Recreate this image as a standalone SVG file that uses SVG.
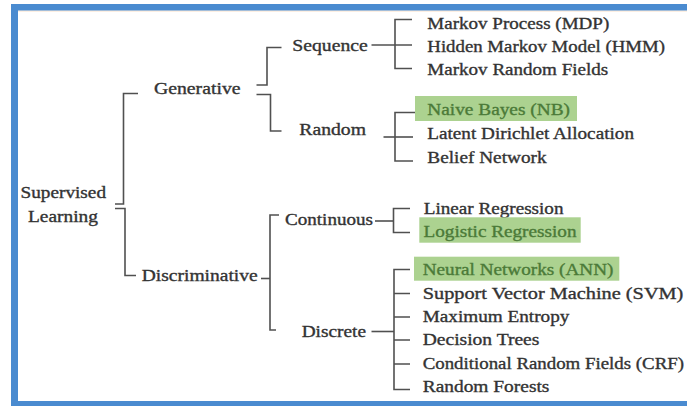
<svg xmlns="http://www.w3.org/2000/svg" width="687" height="406" viewBox="0 0 687 406">
  <style>
    text { font-family: 'Liberation Serif', 'DejaVu Serif', serif; font-size: 16.5px; fill: #333333; stroke: #333333; stroke-width: 0.35px; }
    text.hl { fill: #4b7a38; stroke: #4b7a38; }
    .link { fill: none; stroke: #505050; stroke-width: 1.6; }
    .hlbox { fill: #acd290; }
    .frame { fill: #4a8bd0; }
  </style>

  <!-- page and frame -->
  <rect x="0" y="0" width="687" height="406" fill="#ffffff"/>
  <rect x="18" y="10" width="669" height="2" fill="#fcefe3"/>
  <rect class="frame" x="11" y="4" width="676" height="6.5"/>
  <rect class="frame" x="11" y="4" width="7" height="402"/>
  <rect class="frame" x="11" y="401" width="676" height="5"/>

  <!-- connectors -->
  <g id="connectors">
    <path class="link" d="M115,204 H123.5 V93.5 H138"/>
    <path class="link" d="M115,208.5 H125 V275.5 H136"/>
    <path class="link" d="M256.5,85 H267 V47.5 H281.5"/>
    <path class="link" d="M256.5,94.5 H270.5 V131 H281.5"/>
    <path class="link" d="M371.5,45 H412"/>
    <path class="link" d="M412,19.5 H395 V68.5 H412"/>
    <path class="link" d="M383.5,137 H413"/>
    <path class="link" d="M415,112.5 H395 V161 H413"/>
    <path class="link" d="M261,278.5 H270"/>
    <path class="link" d="M279,215 H270 V330 H276"/>
    <path class="link" d="M375,221 H393.5"/>
    <path class="link" d="M410,208.5 H393.5 V232.5 H410"/>
    <path class="link" d="M371.5,331.5 H394"/>
    <path class="link" d="M410,269.5 H394 V389.5 H410"/>
    <path class="link" d="M394,293.5 H410 M394,317 H410 M394,340 H410 M394,364 H410"/>
  </g>

  <!-- root -->
  <g id="supervised-learning">
    <text x="20.5" y="198" textLength="85.5" lengthAdjust="spacingAndGlyphs">Supervised</text>
    <text x="28" y="221.5" textLength="70" lengthAdjust="spacingAndGlyphs">Learning</text>
  </g>

  <!-- generative branch -->
  <g id="generative"><text x="154" y="94" textLength="86.5" lengthAdjust="spacingAndGlyphs">Generative</text></g>
  <g id="sequence"><text x="292.3" y="51" textLength="75.4" lengthAdjust="spacingAndGlyphs">Sequence</text></g>
  <g id="random"><text x="299.3" y="134.5" textLength="66.7" lengthAdjust="spacingAndGlyphs">Random</text></g>

  <g id="markov-process"><text x="427.3" y="28.5" textLength="182" lengthAdjust="spacingAndGlyphs">Markov Process (MDP)</text></g>
  <g id="hmm"><text x="427.3" y="51.5" textLength="237.7" lengthAdjust="spacingAndGlyphs">Hidden Markov Model (HMM)</text></g>
  <g id="markov-random-fields"><text x="427.3" y="74.5" textLength="181" lengthAdjust="spacingAndGlyphs">Markov Random Fields</text></g>

  <g id="naive-bayes">
    <rect class="hlbox" x="415" y="96" width="162" height="25"/>
    <text class="hl" x="427.3" y="115" textLength="142.7" lengthAdjust="spacingAndGlyphs">Naive Bayes (NB)</text>
  </g>
  <g id="lda"><text x="427.3" y="139" textLength="206.7" lengthAdjust="spacingAndGlyphs">Latent Dirichlet Allocation</text></g>
  <g id="belief-network"><text x="427.3" y="163" textLength="119.3" lengthAdjust="spacingAndGlyphs">Belief Network</text></g>

  <!-- discriminative branch -->
  <g id="discriminative"><text x="141.7" y="280.5" textLength="116" lengthAdjust="spacingAndGlyphs">Discriminative</text></g>
  <g id="continuous"><text x="285" y="224.5" textLength="88" lengthAdjust="spacingAndGlyphs">Continuous</text></g>
  <g id="discrete"><text x="301.7" y="336.5" textLength="64.3" lengthAdjust="spacingAndGlyphs">Discrete</text></g>

  <g id="linear-regression"><text x="423.8" y="213.5" textLength="139.7" lengthAdjust="spacingAndGlyphs">Linear Regression</text></g>
  <g id="logistic-regression">
    <rect class="hlbox" x="419.3" y="217.3" width="161.4" height="25.4"/>
    <text class="hl" x="423.5" y="237" textLength="153" lengthAdjust="spacingAndGlyphs">Logistic Regression</text>
  </g>

  <g id="neural-networks">
    <rect class="hlbox" x="414" y="256.7" width="205.3" height="24"/>
    <text class="hl" x="422.7" y="275" textLength="190.7" lengthAdjust="spacingAndGlyphs">Neural Networks (ANN)</text>
  </g>
  <g id="svm"><text x="422.7" y="298.5" textLength="260.7" lengthAdjust="spacingAndGlyphs">Support Vector Machine (SVM)</text></g>
  <g id="maximum-entropy"><text x="422.7" y="322" textLength="146.7" lengthAdjust="spacingAndGlyphs">Maximum Entropy</text></g>
  <g id="decision-trees"><text x="422.7" y="345" textLength="116.7" lengthAdjust="spacingAndGlyphs">Decision Trees</text></g>
  <g id="crf"><text x="422.7" y="368.5" textLength="261.3" lengthAdjust="spacingAndGlyphs">Conditional Random Fields (CRF)</text></g>
  <g id="random-forests"><text x="422.7" y="392" textLength="126.7" lengthAdjust="spacingAndGlyphs">Random Forests</text></g>
</svg>
